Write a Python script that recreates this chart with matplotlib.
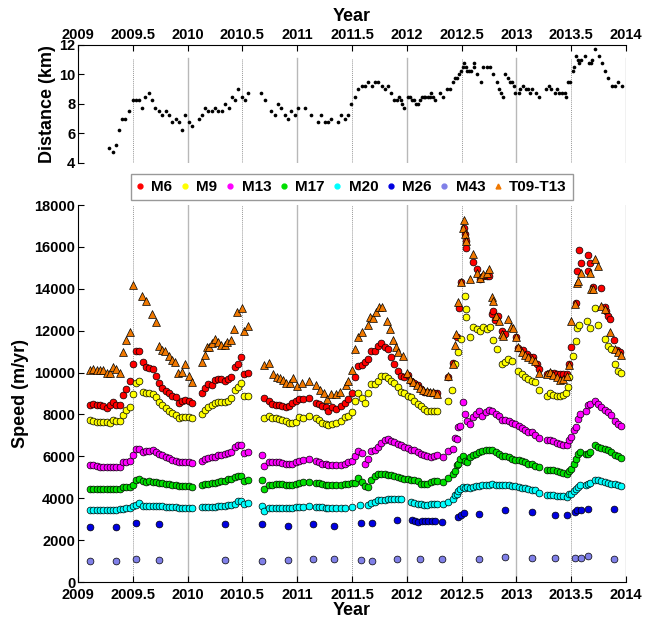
import matplotlib
matplotlib.use("Agg")
import matplotlib.pyplot as plt
from matplotlib.lines import Line2D

plt.rcParams["font.family"] = ["Liberation Sans", "DejaVu Sans"]
plt.rcParams["font.weight"] = "bold"

# ---------------------------------------------------------------- top panel
dist_t = [2009.287, 2009.317, 2009.348, 2009.375, 2009.402, 2009.433, 2009.463, 2009.5, 2009.53, 2009.56,
          2009.588, 2009.616, 2009.649, 2009.677, 2009.707, 2009.738, 2009.768, 2009.799, 2009.829, 2009.86,
          2009.89, 2009.92, 2009.948, 2009.98, 2010.01, 2010.04, 2010.10, 2010.13, 2010.16, 2010.19,
          2010.22, 2010.25, 2010.28, 2010.31, 2010.345, 2010.375, 2010.405, 2010.436, 2010.463, 2010.494,
          2010.524, 2010.555, 2010.674, 2010.704, 2010.765, 2010.796, 2010.826, 2010.857, 2010.887, 2010.918,
          2010.948, 2010.979, 2011.006, 2011.067, 2011.128, 2011.189, 2011.22, 2011.25, 2011.28, 2011.31,
          2011.37, 2011.40, 2011.433, 2011.463, 2011.494, 2011.524, 2011.558, 2011.588, 2011.62, 2011.65,
          2011.68, 2011.71, 2011.74, 2011.77, 2011.80, 2011.83, 2011.856, 2011.886, 2011.91, 2011.93,
          2011.947, 2011.96, 2011.977, 2012.014, 2012.03, 2012.05, 2012.07, 2012.087, 2012.105, 2012.12,
          2012.135, 2012.153, 2012.17, 2012.19, 2012.208, 2012.22, 2012.24, 2012.257, 2012.305, 2012.327,
          2012.363, 2012.394, 2012.424, 2012.44, 2012.46, 2012.476, 2012.497, 2012.51, 2012.52, 2012.54,
          2012.55, 2012.57, 2012.59, 2012.61, 2012.615, 2012.64, 2012.673, 2012.70, 2012.73, 2012.76,
          2012.79, 2012.82, 2012.846, 2012.86, 2012.88, 2012.90, 2012.92, 2012.94, 2012.956, 2012.974,
          2012.99, 2013.02, 2013.035, 2013.056, 2013.084, 2013.11, 2013.127, 2013.145, 2013.175, 2013.21,
          2013.266, 2013.297, 2013.32, 2013.35, 2013.37, 2013.39, 2013.42, 2013.44, 2013.457, 2013.47,
          2013.49, 2013.514, 2013.53, 2013.545, 2013.56, 2013.57, 2013.59, 2013.63, 2013.66, 2013.685,
          2013.69, 2013.72, 2013.75, 2013.78, 2013.81, 2013.84, 2013.87, 2013.90, 2013.93, 2013.96]
dist_km = [5.0, 4.75, 5.25, 6.25, 7.0, 7.0, 7.5, 8.25, 8.25, 8.25,
           7.75, 8.5, 8.75, 8.25, 7.75, 7.5, 7.25, 7.5, 7.25, 6.75,
           7.0, 6.75, 6.25, 7.25, 6.75, 6.5, 7.0, 7.25, 7.75, 7.5,
           7.5, 7.75, 7.5, 7.5, 8.0, 7.75, 8.5, 8.25, 9.0, 8.5,
           8.25, 8.75, 8.75, 8.25, 7.5, 7.25, 8.0, 7.75, 7.25, 7.0,
           7.5, 7.25, 7.75, 7.75, 7.25, 6.75, 7.25, 6.75, 6.75, 7.0,
           6.75, 7.25, 7.0, 7.25, 8.0, 8.5, 9.0, 9.25, 9.25, 9.5,
           9.25, 9.5, 9.5, 9.25, 9.0, 9.25, 8.75, 8.25, 8.25, 8.5,
           8.25, 8.0, 7.75, 8.5, 8.5, 8.25, 8.25, 8.0, 8.0, 8.25,
           8.5, 8.5, 8.5, 8.5, 8.5, 8.75, 8.5, 8.25, 8.75, 8.5,
           9.0, 9.0, 9.5, 9.75, 9.75, 10.0, 10.25, 10.5, 10.75, 10.5,
           10.25, 10.25, 10.25, 10.75, 10.5, 10.0, 9.5, 10.5, 10.5, 10.5,
           10.0, 9.5, 9.0, 8.75, 8.5, 10.0, 9.75, 9.5, 9.5, 9.25,
           8.75, 8.75, 9.0, 9.25, 9.0, 9.0, 8.75, 9.0, 8.75, 8.5,
           9.0, 9.25, 9.0, 8.75, 9.0, 8.75, 8.75, 8.75, 8.5, 9.5,
           9.5, 10.25, 10.5, 11.25, 11.0, 10.75, 11.0, 11.25, 10.75, 10.75,
           11.0, 11.75, 11.25, 10.75, 10.25, 9.75, 9.25, 9.25, 9.5, 9.25]

# ---------------------------------------------------------------- speeds
m6_t = [2009.111, 2009.141, 2009.171, 2009.201, 2009.231, 2009.261, 2009.291, 2009.321, 2009.351, 2009.381,
        2009.411, 2009.441, 2009.471, 2009.501, 2009.531, 2009.561, 2009.591, 2009.621, 2009.651, 2009.681,
        2009.711, 2009.741, 2009.771, 2009.801, 2009.831, 2009.861, 2009.891, 2009.921, 2009.951, 2009.981,
        2010.011, 2010.041,
        2010.129, 2010.159, 2010.189, 2010.219, 2010.249, 2010.279, 2010.309, 2010.339, 2010.369, 2010.399,
        2010.429, 2010.459, 2010.489, 2010.519, 2010.549,
        2010.701, 2010.743, 2010.774, 2010.804, 2010.834, 2010.865, 2010.895, 2010.926, 2010.956, 2010.986,
        2011.017, 2011.053, 2011.108, 2011.169, 2011.199, 2011.229, 2011.26, 2011.284, 2011.315, 2011.351,
        2011.40, 2011.436, 2011.467, 2011.497, 2011.527, 2011.558, 2011.588, 2011.618, 2011.648, 2011.678,
        2011.708, 2011.738, 2011.768, 2011.798, 2011.828, 2011.858, 2011.888, 2011.918, 2011.948, 2011.978,
        2012.008, 2012.038, 2012.068, 2012.098, 2012.128, 2012.158, 2012.188, 2012.218, 2012.248, 2012.278,
        2012.374, 2012.419, 2012.456, 2012.477, 2012.495, 2012.526, 2012.532, 2012.538, 2012.541, 2012.602,
        2012.638, 2012.669, 2012.699, 2012.729, 2012.754, 2012.775, 2012.79, 2012.806, 2012.836, 2012.873,
        2012.897, 2012.997, 2013.018, 2013.064, 2013.094, 2013.124, 2013.148, 2013.185, 2013.209,
        2013.276, 2013.306, 2013.342, 2013.367, 2013.397, 2013.427, 2013.458, 2013.479, 2013.503, 2013.542,
        2013.555, 2013.567, 2013.591, 2013.655, 2013.658, 2013.67, 2013.70, 2013.776, 2013.806, 2013.821,
        2013.836, 2013.858, 2013.888, 2013.918, 2013.942]
m6_v = [8475, 8522, 8475, 8475, 8411, 8332, 8475, 8586, 8459, 8459,
        8951, 9236, 9585, 10411, 11014, 11046, 10506, 10284, 10204, 10173,
        9839, 9522, 9252, 9109, 9014, 8887, 8855, 8538, 8633, 8681,
        8665, 8570,
        9014, 9252, 9443, 9411, 9665, 9712, 9681, 9601, 9712, 9808,
        10268, 10411, 10760, 9935, 9982,
        8776, 8649, 8490, 8475, 8475, 8411, 8347, 8411, 8570, 8649,
        8729, 8760, 8792, 8538, 8490, 8395, 8347, 8189, 8364, 8252,
        8427, 8570, 8760, 9046, 9808, 10331, 10363, 10500, 10650, 11014,
        11014, 11252, 11411, 11204, 11125, 10760, 10411, 10093, 9839, 9808,
        9903, 9617, 9490, 9411, 9204, 9062, 9062, 9014, 9014, 9014,
        9800, 10443, 11680, 13077, 14331, 16918, 16600, 16283, 15965, 15283,
        14934, 14457, 14616, 14616, 14616, 12791, 12950, 12505, 12712, 11998,
        11839, 11680, 11172, 11077, 10887, 10728, 10728, 10411, 10173,
        9935, 9966, 9966, 9935, 9935, 9935, 9935, 10411, 11204, 13299,
        14854, 15838, 15219, 15616, 14854, 15235, 14092, 14029, 13140, 12950,
        12712, 12553, 11553, 11093, 10966]

m9_t = m6_t[:97] + [2012.38, 2012.41, 2012.441, 2012.465, 2012.495, 2012.532, 2012.538, 2012.545, 2012.578, 2012.608,
                    2012.638, 2012.669, 2012.699, 2012.729, 2012.76, 2012.79, 2012.82, 2012.867, 2012.897, 2012.927,
                    2012.958, 2013.018, 2013.048, 2013.079, 2013.109, 2013.139, 2013.17, 2013.209,
                    2013.282, 2013.306, 2013.336, 2013.367, 2013.397, 2013.427, 2013.452, 2013.473, 2013.482, 2013.518,
                    2013.542, 2013.555, 2013.573, 2013.648, 2013.67, 2013.717, 2013.745, 2013.806, 2013.836, 2013.867,
                    2013.897, 2013.927, 2013.958]
m9_v = [7713, 7681, 7649, 7649, 7649, 7618, 7586, 7713, 7665, 7665,
        7998, 8221, 8364, 8967, 9490, 9617, 9094, 9014, 9014, 8982,
        8824, 8617, 8475, 8316, 8173, 8062, 7998, 7808, 7872, 7887,
        7887, 7808,
        8030, 8221, 8380, 8459, 8538, 8602, 8617, 8586, 8665, 8808,
        9173, 9300, 9490, 8887, 8887,
        7808, 7903, 7824, 7808, 7776, 7745, 7665, 7602, 7602, 7649,
        7872, 7840, 7935, 7808, 7713, 7602, 7554, 7491, 7554, 7586,
        7665, 7872, 7935, 8094, 8665, 9014, 8794, 8571, 9016, 9458,
        9458, 9617, 9855, 9855, 9744, 9617, 9490, 9300, 9062, 9014,
        8903, 8824, 8665, 8506, 8427, 8268, 8189, 8189, 8189, 8189,
        8665, 9173, 10411, 10966, 11601, 13664, 13029, 12632, 11680, 12188,
        12077, 11998, 12156, 12077, 12156, 11553, 11125, 10411, 10490, 10649,
        10570, 10062, 9935, 9808, 9696, 9617, 9538, 9173,
        8903, 9014, 8951, 8903, 8903, 8951, 9014, 9300, 9776, 10808,
        11521, 12124, 12283, 12442, 12124, 13079, 12283, 11601, 11283, 11125,
        10411, 10093, 9982]

m13_t = m6_t[:47] + [2010.676] + m6_t[47:97] + [
        2012.334, 2012.38, 2012.419, 2012.441, 2012.456, 2012.471, 2012.49, 2012.517, 2012.532, 2012.548,
        2012.578, 2012.60, 2012.63, 2012.66, 2012.69, 2012.72, 2012.75, 2012.78, 2012.81, 2012.84,
        2012.87, 2012.90, 2012.93, 2012.96, 2012.99, 2013.02, 2013.05, 2013.08, 2013.11, 2013.14,
        2013.17, 2013.21,
        2013.282, 2013.306, 2013.336, 2013.367, 2013.397, 2013.427, 2013.458, 2013.479, 2013.503, 2013.524,
        2013.542, 2013.564, 2013.585, 2013.639, 2013.655, 2013.67, 2013.715, 2013.745, 2013.776, 2013.806,
        2013.836, 2013.867, 2013.897, 2013.927, 2013.958]
m13_v = [5570, 5570, 5522, 5507, 5507, 5507, 5507, 5507, 5491, 5507,
         5713, 5729, 5761, 6046, 6364, 6364, 6221, 6253, 6253, 6300,
         6189, 6110, 6046, 5951, 5904, 5840, 5777, 5713, 5713, 5713,
         5713, 5697,
         5793, 5872, 5920, 5951, 5983, 6046, 6078, 6126, 6173, 6221,
         6459, 6523, 6554, 6142, 6221,
         6078,
         5523, 5745, 5713, 5713, 5713, 5681, 5650, 5618, 5618, 5713,
         5761, 5808, 5856, 5777, 5713, 5650, 5618, 5586, 5570, 5570,
         5586, 5650, 5713, 5777, 6030, 6237, 6158, 5651, 5889, 6254,
         6317, 6443, 6634, 6792, 6840, 6729, 6681, 6602, 6523, 6443,
         6412, 6316, 6285, 6205, 6126, 6047, 5999, 5967, 5999, 6047,
         5967, 6253, 6364, 6888, 6824, 7395, 7427, 8586, 8030, 7681,
         7522, 7872, 8030, 8189, 7903, 8110, 8221, 8189, 8030, 7903,
         7745, 7713, 7681, 7586, 7522, 7427, 7332, 7237, 7157, 7141,
         6999, 6888,
         6792, 6761, 6729, 6634, 6602, 6523, 6523, 6792, 6919, 7237,
         7395, 7792, 8030, 8157, 8475, 8506, 8633, 8506, 8348, 8221,
         8110, 7951, 7681, 7522, 7427]

m17_t = m13_t
m17_v = [4444, 4444, 4428, 4444, 4428, 4428, 4444, 4444, 4428, 4444,
         4539, 4555, 4523, 4650, 4872, 4920, 4809, 4793, 4809, 4793,
         4777, 4745, 4713, 4682, 4666, 4634, 4634, 4602, 4602, 4586,
         4571, 4539,
         4618, 4666, 4682, 4713, 4729, 4777, 4824, 4840, 4920, 4936,
         5015, 5078, 5078, 4824, 4888,
         4872,
         4460, 4618, 4650, 4666, 4682, 4682, 4650, 4634, 4650, 4682,
         4713, 4777, 4777, 4745, 4713, 4682, 4650, 4634, 4634, 4618,
         4634, 4682, 4682, 4713, 4745, 4983, 4777, 4571, 4539, 4888,
         5047, 5142, 5174, 5142, 5094, 5094, 5047, 5015, 4983, 4936,
         4936, 4888, 4856, 4809, 4698, 4666, 4698, 4777, 4809, 4825,
         4777, 4983, 5142, 5301, 5570, 5650, 5888, 5999, 5777, 5729,
         5967, 6047, 6126, 6205, 6253, 6285, 6316, 6285, 6205, 6110,
         5999, 5999, 5967, 5888, 5840, 5808, 5761, 5729, 5650, 5618,
         5539, 5491,
         5364, 5364, 5332, 5301, 5253, 5205, 5142, 5301, 5412, 5650,
         5888, 6094, 6205, 6126, 6126, 6205, 6523, 6443, 6396, 6348,
         6285, 6189, 6078, 5999, 5920]

m20_t = m6_t[:47] + [2010.676] + m6_t[47:69] + [
        2011.497, 2011.574, 2011.648, 2011.678, 2011.708, 2011.738, 2011.768, 2011.798, 2011.828, 2011.858,
        2011.888, 2011.918, 2011.948, 2012.038, 2012.068, 2012.098, 2012.128, 2012.158, 2012.188, 2012.218,
        2012.248, 2012.278] + m13_t[98:]
m20_v = [3460, 3444, 3444, 3460, 3444, 3444, 3460, 3460, 3460, 3475,
         3491, 3523, 3523, 3618, 3698, 3761, 3650, 3650, 3650, 3650,
         3650, 3650, 3618, 3602, 3587, 3571, 3571, 3555, 3555, 3555,
         3539, 3523,
         3571, 3571, 3587, 3602, 3602, 3618, 3634, 3650, 3666, 3698,
         3729, 3872, 3888, 3729, 3777,
         3650,
         3380, 3539, 3539, 3539, 3555, 3555, 3555, 3555, 3555, 3571,
         3587, 3602, 3618, 3587, 3587, 3571, 3555, 3555, 3539, 3539,
         3555, 3555,
         3602, 3666, 3666, 3777, 3825, 3904, 3936, 3936, 3952, 3952,
         3952, 3983, 3952, 3825, 3777, 3714, 3714, 3666, 3666, 3714,
         3714, 3714,
         3714, 3825, 3983, 4142, 4222, 4348, 4460, 4539, 4500, 4539,
         4500, 4539, 4570, 4602, 4618, 4634, 4650, 4666, 4650, 4634,
         4618, 4618, 4618, 4570, 4570, 4539, 4507, 4475, 4444, 4412,
         4380, 4253,
         4174, 4158, 4142, 4126, 4110, 4094, 4063, 4190, 4222, 4348,
         4444, 4539, 4618, 4618, 4698, 4729, 4888, 4856, 4824, 4777,
         4729, 4698, 4666, 4618, 4570]

m26_t = [2009.111, 2009.348, 2009.53, 2009.737, 2010.342, 2010.676, 2010.913, 2011.141, 2011.339, 2011.58,
         2011.681, 2011.909, 2012.046, 2012.076, 2012.106, 2012.137, 2012.167, 2012.198, 2012.228, 2012.258,
         2012.325, 2012.465, 2012.495, 2012.526, 2012.66, 2012.897, 2013.139, 2013.352, 2013.464, 2013.533,
         2013.555, 2013.588, 2013.655, 2013.891]
m26_v = [2650, 2650, 2800, 2770, 2793, 2793, 2698, 2793, 2698, 2825,
         2825, 2952, 2952, 2920, 2857, 2904, 2920, 2904, 2920, 2904,
         2857, 3111, 3190, 3301, 3269, 3428, 3349, 3190, 3190, 3349,
         3428, 3460, 3491, 3491]

m43_t = [2009.111, 2009.348, 2009.53, 2009.737, 2010.342, 2010.676, 2010.913, 2011.141, 2011.339, 2011.58,
         2011.681, 2011.909, 2012.12, 2012.325, 2012.66, 2012.897, 2013.139, 2013.352, 2013.533, 2013.588,
         2013.655, 2013.891]
m43_v = [1020, 1020, 1080, 1070, 1063, 1000, 1040, 1079, 1079, 1060,
         1016, 1079, 1079, 1079, 1079, 1174, 1158, 1158, 1127, 1127,
         1238, 1095]

t09_t = [2009.111, 2009.141, 2009.171, 2009.201, 2009.231, 2009.261, 2009.291, 2009.321, 2009.351, 2009.381,
         2009.411, 2009.441, 2009.471, 2009.501, 2009.581, 2009.617, 2009.678, 2009.709, 2009.736, 2009.766,
         2009.797, 2009.827, 2009.858, 2009.888, 2009.915, 2009.949, 2009.98, 2010.01, 2010.04,
         2010.131, 2010.156, 2010.18, 2010.2, 2010.226, 2010.25, 2010.277, 2010.308, 2010.338, 2010.356,
         2010.396, 2010.427, 2010.454, 2010.494, 2010.515, 2010.548,
         2010.697, 2010.746, 2010.782, 2010.813, 2010.843, 2010.867, 2010.901, 2010.934, 2010.965, 2010.995,
         2011.047, 2011.105, 2011.172, 2011.208, 2011.245, 2011.269, 2011.308, 2011.351, 2011.39, 2011.443,
         2011.467, 2011.497, 2011.527, 2011.558, 2011.588, 2011.644, 2011.666, 2011.696, 2011.72, 2011.75,
         2011.772, 2011.818, 2011.848, 2011.878, 2011.903, 2011.924, 2011.97, 2012.0, 2012.03, 2012.061,
         2012.091, 2012.122, 2012.152, 2012.182, 2012.213, 2012.243, 2012.274,
         2012.38, 2012.419, 2012.441, 2012.45, 2012.465, 2012.495, 2012.517, 2012.526, 2012.532, 2012.541,
         2012.578, 2012.60, 2012.638, 2012.669, 2012.699, 2012.729, 2012.754, 2012.775, 2012.784, 2012.815,
         2012.845, 2012.867, 2012.882, 2012.927, 2012.948, 2012.967, 2012.997, 2013.018, 2013.048, 2013.079,
         2013.109, 2013.139, 2013.17, 2013.209,
         2013.282, 2013.306, 2013.336, 2013.367, 2013.397, 2013.427, 2013.458, 2013.479, 2013.503, 2013.533,
         2013.555, 2013.564, 2013.594, 2013.67, 2013.685, 2013.70, 2013.718, 2013.745, 2013.77, 2013.806,
         2013.858, 2013.897, 2013.927, 2013.958]
t09_v = [10125, 10173, 10141, 10141, 10125, 9998, 9982, 10252, 10157, 9982,
         10982, 11553, 11934, 14172, 13635, 13413, 12778, 12428, 11286, 11079,
         11032, 10794, 10603, 10492, 10000, 10048, 10429, 9825, 9571,
         10508, 10857, 11206, 11222, 11429, 11619, 11444, 11333, 11302, 11444,
         11540, 12095, 12889, 13079, 12000, 12238,
         10381, 10444, 9921, 9778, 9746, 9651, 9508, 9508, 9746, 9349,
         9492, 9603, 9413, 9175, 9032, 8746, 8984, 8984, 9064, 9429,
         9617, 10125, 11109, 11712, 11950, 12252, 12664, 12600, 12870, 13140,
         13140, 12474, 12077, 11553, 11204, 10966, 10808, 10000, 9700, 9550,
         9400, 9250, 9150, 9100, 9050, 9050, 9000,
         9855, 10411, 11331, 11839, 13347, 14331, 16918, 17267, 16600, 16283,
         14457, 15648, 14775, 14537, 14696, 14775, 14934, 13585, 13426, 12712,
         12474, 11839, 11760, 12553, 12188, 12124, 11680, 11204, 10966, 10839,
         10728, 10649, 10538, 9966,
         9935, 10014, 9903, 9776, 9649, 9681, 9855, 10379, 12474, 13267,
         14299, 14378, 14775, 14775, 13981, 13981, 15410, 15092, 13188, 13029,
         11950, 11125, 10966, 10855]

tick_years = [2009, 2009.5, 2010, 2010.5, 2011, 2011.5, 2012, 2012.5, 2013, 2013.5, 2014]
tick_labels = ["2009", "2009.5", "2010", "2010.5", "2011", "2011.5", "2012", "2012.5", "2013", "2013.5", "2014"]

series = [
    ("M6", m6_t, m6_v, "#ff0000", "o"),
    ("M9", m9_t, m9_v, "#ffff00", "o"),
    ("M13", m13_t, m13_v, "#ff00ff", "o"),
    ("M17", m17_t, m17_v, "#00e000", "o"),
    ("M20", m20_t, m20_v, "#00ffff", "o"),
    ("M26", m26_t, m26_v, "#0000e0", "o"),
    ("M43", m43_t, m43_v, "#8080e8", "o"),
    ("T09-T13", t09_t, t09_v, "#f07800", "^"),
]

fig = plt.figure(figsize=(6.53, 6.23), dpi=100)
ax_top = fig.add_axes([0.1194, 0.7384, 0.8392, 0.1894])
ax = fig.add_axes([0.1194, 0.0658, 0.8392, 0.6051])


def draw_grid(axis, top=1.0):
    for yr in tick_years[1:]:
        if yr % 1 == 0:
            axis.axvline(yr, ymax=top, color="0.72", lw=1.0, zorder=0)
        else:
            axis.axvline(yr, ymax=top, color="0.6", lw=0.7, ls=(0, (1, 1)), zorder=0)


# distance panel
draw_grid(ax_top, top=0.89)
ax_top.scatter(dist_t, dist_km, s=7, color="black", zorder=3, linewidths=0)
ax_top.set_xlim(2009, 2014)
ax_top.set_ylim(4, 12)
ax_top.set_yticks([4, 6, 8, 10, 12])
ax_top.xaxis.tick_top()
ax_top.xaxis.set_label_position("top")
ax_top.set_xticks(tick_years)
ax_top.set_xticklabels(tick_labels)
ax_top.set_xlabel("Year", fontsize=13, fontweight="bold", labelpad=5)
ax_top.set_ylabel("Distance (km)", fontsize=13, fontweight="bold", labelpad=2)
ax_top.spines["bottom"].set_visible(False)
ax_top.spines["right"].set_visible(False)
ax_top.tick_params(direction="in", length=4, labelsize=10.5)
ax_top.tick_params(axis="x", pad=2)
ax_top.tick_params(axis="y", pad=2)

# speed panel
draw_grid(ax)
handles = []
for name, t, v, col, mk in series:
    size = 32 if mk == "^" else 24
    ax.scatter(t, v, s=size, marker=mk, color=col, edgecolors="black", linewidths=0.5, zorder=3)
    handles.append(Line2D([], [], ls="none", marker=mk, markersize=3.5, markerfacecolor=col,
                          markeredgecolor=col, label=name))

ax.set_xlim(2009, 2014)
ax.set_ylim(0, 18000)
ax.set_yticks(range(0, 18001, 2000))
ax.set_xticks(tick_years)
ax.set_xticklabels(tick_labels)
ax.set_xlabel("Year", fontsize=13, fontweight="bold", labelpad=0)
ax.set_ylabel("Speed (m/yr)", fontsize=13, fontweight="bold", labelpad=4)
ax.spines["top"].set_visible(False)
ax.spines["right"].set_visible(False)
ax.tick_params(direction="in", length=4, labelsize=10.5)
ax.tick_params(axis="x", pad=4.5)
ax.tick_params(axis="y", pad=2)

leg = ax.legend(handles=handles, ncol=8, loc="center", bbox_to_anchor=(0.5, 1.048),
                fontsize=11, handlelength=0.4, handletextpad=0.55, columnspacing=0.62,
                borderpad=0.4, borderaxespad=0, fancybox=False, edgecolor="0.6", framealpha=1)
for txt in leg.get_texts():
    txt.set_fontweight("bold")

fig.savefig("out.png", dpi=100)
